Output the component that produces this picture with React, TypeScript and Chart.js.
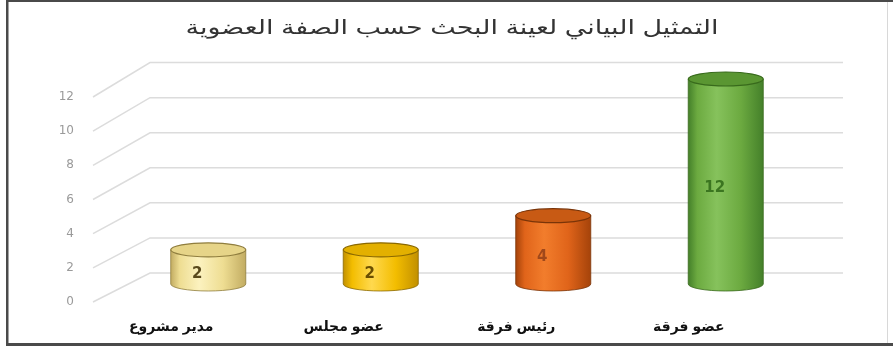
import React, { useEffect, useRef } from "react";
import { Chart, registerables } from "chart.js";

Chart.register(...registerables);

const titleText = "التمثيل البياني لعينة البحث حسب الصفة العضوية";
const categories = ["مدير مشروع", "عضو مجلس", "رئيس فرقة", "عضو فرقة"];
const values = [2, 2, 4, 12];
const yTicks = [0, 2, 4, 6, 8, 10, 12];

const palettes = [
  { edge: "#c2ac62", light: "#fcf2bf", mid: "#eedd92", top: "#e6d488", outline: "#8f7d3e", text: "#5a4a1c" },
  { edge: "#c29000", light: "#ffd94e", mid: "#f3bd00", top: "#e3b000", outline: "#8a6800", text: "#6a4e00" },
  { edge: "#a5430a", light: "#f27d2c", mid: "#e0641a", top: "#c85a14", outline: "#7a3408", text: "#a0481a" },
  { edge: "#44802a", light: "#86c25c", mid: "#6caa40", top: "#5a9632", outline: "#386a1c", text: "#3b7520" },
];

const arabicFont = 'Arial, "Liberation Sans", "DejaVu Sans", sans-serif';

const cylinderPlugin = {
  id: "cylinders",
  beforeDraw(chart: any) {
    const { ctx, width, height } = chart;
    ctx.save();
    ctx.fillStyle = "#ffffff";
    ctx.fillRect(0, 0, width, height);
    // title (stretched horizontally as in the reference)
    ctx.font = `20px ${arabicFont}`;
    ctx.fillStyle = "#333333";
    ctx.textAlign = "center";
    ctx.textBaseline = "middle";
    const w = ctx.measureText(titleText).width;
    const targetW = 533;
    const sx = targetW / w;
    ctx.translate(452, 28);
    ctx.scale(sx, 1);
    ctx.fillText(titleText, 0, 0);
    ctx.restore();
  },
  beforeDatasetsDraw(chart: any) {
    const ctx = chart.ctx;
    const ys = chart.scales.y;
    ctx.save();
    ctx.strokeStyle = "#dcdcdc";
    ctx.lineWidth = 1.5;
    for (const v of yTicks) {
      const p = ys.getPixelForValue(v);
      const yFront = p + 18;
      const yBack = p - 11 - v * 0.45;
      ctx.beginPath();
      ctx.moveTo(93, yFront);
      ctx.lineTo(150, yBack);
      ctx.lineTo(843, yBack);
      ctx.stroke();
    }
    ctx.restore();
  },
  afterDatasetsDraw(chart: any) {
    const ctx = chart.ctx;
    const meta = chart.getDatasetMeta(0);
    meta.data.forEach((bar: any, i: number) => {
      const pal = palettes[i];
      const { x, y, base, width } = bar.getProps(["x", "y", "base", "width"], true);
      const rx = width / 2;
      const ry = 7;
      const left = x - rx;
      const right = x + rx;
      ctx.save();
      const g = ctx.createLinearGradient(left, 0, right, 0);
      g.addColorStop(0, pal.edge);
      g.addColorStop(0.12, pal.mid);
      g.addColorStop(0.38, pal.light);
      g.addColorStop(0.7, pal.mid);
      g.addColorStop(1, pal.edge);
      ctx.beginPath();
      ctx.moveTo(left, y);
      ctx.lineTo(left, base);
      ctx.ellipse(x, base, rx, ry, 0, Math.PI, 0, true);
      ctx.lineTo(right, y);
      ctx.closePath();
      ctx.fillStyle = g;
      ctx.fill();
      ctx.strokeStyle = pal.outline;
      ctx.lineWidth = 0.8;
      ctx.stroke();
      ctx.beginPath();
      ctx.ellipse(x, y, rx, ry, 0, 0, Math.PI * 2);
      ctx.fillStyle = pal.top;
      ctx.fill();
      ctx.lineWidth = 1.2;
      ctx.strokeStyle = pal.outline;
      ctx.stroke();
      ctx.fillStyle = pal.text;
      ctx.font = 'bold 15px "DejaVu Sans", Verdana, sans-serif';
      ctx.textAlign = "center";
      ctx.textBaseline = "middle";
      ctx.fillText(String(values[i]), x - 11, (y + base) / 2 + 7);
      ctx.restore();
    });
  },
  afterDraw(chart: any) {
    const { ctx, width, height } = chart;
    ctx.save();
    ctx.fillStyle = "#4a4a4a";
    ctx.fillRect(6, 0, width - 6, 2);
    ctx.fillRect(6, 0, 2.5, height - 4);
    ctx.fillRect(6, height - 5, width - 6, 3);
    ctx.fillStyle = "#d8d8d8";
    ctx.fillRect(887, 2, 1, height - 7);
    ctx.restore();
  },
};

export default function App() {
  const ref = useRef<HTMLCanvasElement | null>(null);
  useEffect(() => {
    if (!ref.current) return;
    const chart = new Chart(ref.current, {
      type: "bar",
      data: {
        labels: categories,
        datasets: [
          {
            data: values,
            backgroundColor: "rgba(0,0,0,0)",
            borderWidth: 0,
            barPercentage: 0.435,
            categoryPercentage: 1,
          },
        ],
      },
      options: {
        animation: false,
        responsive: false,
        maintainAspectRatio: false,
        layout: { padding: { left: 0, right: 81, top: 79, bottom: 0 } },
        plugins: {
          legend: { display: false },
          tooltip: { enabled: false },
          title: { display: false },
        },
        scales: {
          x: {
            afterFit(scale: any) {
              scale.height = 64;
            },
            grid: { display: false, drawTicks: false },
            border: { display: false },
            ticks: {
              color: "#111111",
              font: { family: arabicFont, size: 14, weight: "bold" },
              padding: 35,
              labelOffset: -37,
              maxRotation: 0,
            },
          },
          y: {
            min: 0,
            max: 12,
            afterFit(scale: any) {
              scale.width = 122;
            },
            afterBuildTicks(scale: any) {
              scale.ticks = yTicks.map((v) => ({ value: v }));
            },
            grid: { display: false, drawTicks: false },
            border: { display: false },
            ticks: {
              color: "#9a9a9a",
              font: { family: '"DejaVu Sans", Verdana, sans-serif', size: 12 },
              padding: 48,
              labelOffset: 18,
            },
          },
        },
      },
      plugins: [cylinderPlugin],
    });
    return () => chart.destroy();
  }, []);
  return (
    <div style={{ position: "fixed", left: 0, top: 0, width: 893, height: 348 }}>
      <canvas ref={ref} width={893} height={348} style={{ width: 893, height: 348, display: "block" }} />
    </div>
  );
}
